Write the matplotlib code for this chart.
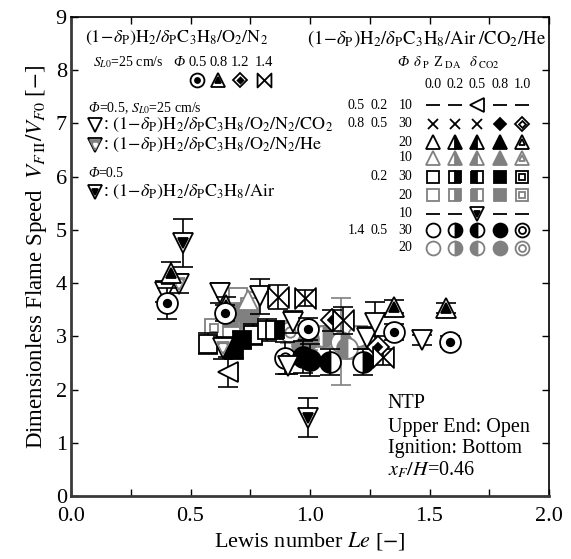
import matplotlib.pyplot as plt
from matplotlib.path import Path
from matplotlib.ticker import MultipleLocator

plt.rcParams['font.family'] = ['Liberation Serif', 'DejaVu Serif']
plt.rcParams['mathtext.fontset'] = 'stix'

GRAY = '#808080'

# ----------------------------
# data: Le, V_FII/V_F0, error bar half-length
# ----------------------------
# (1-dP)H2/dPC3H8/O2/N2, S_L0 = 25 cm/s
on2_phi05_le = [0.40, 0.645, 0.99, 1.35, 1.585]
on2_phi05_vf = [3.62, 3.44, 3.14, 3.08, 2.90]
on2_phi05_err = [0.29, 0.15, 0.20, 0.15, 0.10]

on2_phi08_le = [0.42, 0.65, 1.35, 1.57]
on2_phi08_vf = [4.19, 3.59, 3.56, 3.53]
on2_phi08_err = [0.21, 0.15, 0.12, 0.10]

on2_phi12_le = [1.09, 1.285]
on2_phi12_vf = [3.30, 2.80]
on2_phi12_err = [0.20, 0.20]

on2_phi14_le = [0.867, 0.98, 1.14, 1.305]
on2_phi14_vf = [3.74, 3.72, 3.30, 2.61]
on2_phi14_err = [0.23, 0.15, 0.25, 0.15]

# Phi = 0.5 : O2/N2 diluted by CO2 or He, and air
co2_le = [0.393, 0.623, 0.79, 0.91, 0.93, 1.24, 1.27, 1.47]
co2_vf = [3.84, 3.81, 3.75, 2.45, 3.27, 2.97, 3.25, 2.93]
co2_err = [0.20, 0.19, 0.33, 0.15, 0.20, 0.20, 0.40, 0.10]

he_le = [0.45, 0.637]
he_vf = [3.99, 2.78]
he_err = [0.18, 0.20]

air_le = [0.47, 0.99]
air_vf = [4.76, 1.47]
air_err = [0.45, 0.37]

# (1-dP)H2/dPC3H8/Air/CO2/He
tri10_d05_le = [0.657]
tri10_d05_vf = [2.33]
tri10_d05_err = [0.28]

tri10_d00_le = [0.74]
tri10_d00_vf = [3.68]
tri10_d00_err = [0.15]

sq30_d00_le = [0.575, 0.76, 0.82]
sq30_d00_vf = [2.86, 3.03, 3.12]
sq30_d00_err = [0.20, 0.20, 0.20]

sq30_d02_le = [0.853]
sq30_d02_vf = [3.12]
sq30_d02_err = [0.15]

sq30_d08_le = [0.68, 0.715]
sq30_d08_vf = [2.75, 2.93]
sq30_d08_err = [0.15, 0.15]

sq20_d00_le = [0.70, 0.75]
sq20_d00_vf = [3.74, 3.55]
sq20_d00_err = [0.12, 0.12]

sq20_d08_le = [0.66, 0.71, 0.745]
sq20_d08_vf = [3.35, 3.45, 3.30]
sq20_d08_err = [0.15, 0.15, 0.15]

sq20_d10_le = [0.60]
sq20_d10_vf = [3.15]
sq20_d10_err = [0.15]

ci30_d02_le = [1.22]
ci30_d02_vf = [2.52]
ci30_d02_err = [0.25]

ci30_d05_le = [1.083]
ci30_d05_vf = [2.52]
ci30_d05_err = [0.25]

ci30_d08_le = [0.97, 1.00]
ci30_d08_vf = [2.61, 2.55]
ci30_d08_err = [0.30, 0.30]

ci30_d10_le = [0.895]
ci30_d10_vf = [2.60]
ci30_d10_err = [0.30]

ci20_d00_le = [1.20]
ci20_d00_vf = [3.00]
ci20_d00_err = [0.20]

ci20_d02_le = [1.055, 1.13]
ci20_d02_vf = [3.00, 2.90]
ci20_d02_err = [0.20, 0.82]

ci20_d05_le = [1.155]
ci20_d05_vf = [2.78]
ci20_d05_err = [0.20]

ci20_d08_le = [0.966, 0.99]
ci20_d08_vf = [2.84, 2.95]
ci20_d08_err = [0.20, 0.20]

ci20_d10_le = [0.916]
ci20_d10_vf = [3.08]
ci20_d10_err = [0.20]

delta_co2_labels = ['0.0', '0.2', '0.5', '0.8', '1.0']
phi_on2_labels = ['0.5', '0.8', '1.2', '1.4']

# ----------------------------
# marker styles (layers drawn on top of each other)
# ----------------------------
BOWTIE = Path([(-1, 1), (-1, -1), (1, 1), (1, -1), (-1, 1)],
              [Path.MOVETO, Path.LINETO, Path.LINETO, Path.LINETO, Path.CLOSEPOLY])


def style(kind, c='k'):
    if kind == 'circ_dot':
        return [('o', 1.0, 'white', c, 'full'), ('o', 0.36, c, c, 'full')]
    if kind == 'tri_dbl':
        return [('^', 1.0, 'white', c, 'full'), ('^', 0.45, c, c, 'full')]
    if kind == 'dia_dot':
        return [('D', 0.72, 'white', c, 'full'), ('D', 0.3, c, c, 'full')]
    if kind == 'bowtie':
        return [(BOWTIE, 1.0, 'white', c, 'full')]
    if kind == 'v_open':
        return [('v', 1.0, 'white', c, 'full')]
    if kind == 'v_he':
        return [('v', 1.0, 'white', c, 'full'), ('v', 0.62, GRAY, GRAY, 'full'),
                ('v', 0.25, 'white', 'white', 'full')]
    if kind == 'v_air':
        return [('v', 1.0, 'white', c, 'full'), ('v', 0.45, c, c, 'full')]
    if kind == 'left':
        return [('<', 1.0, 'white', c, 'full')]
    if kind == 'dash':
        return [('_', 1.0, c, c, 'full')]
    if kind == 'cross':
        return [('x', 0.7, c, c, 'full')]
    if kind == 'dia_full':
        return [('D', 0.6, c, c, 'full')]
    if kind == 'dia_dbl':
        return [('D', 0.7, 'white', c, 'full'), ('D', 0.35, 'white', c, 'full')]
    raise ValueError(kind)


def grid_style(shape, idx, c):
    f = 0.85 if shape == 's' else 1.0
    if idx == 0:
        return [(shape, f, 'white', c, 'full')]
    if idx == 1:
        return [(shape, f, c, c, 'right')]
    if idx == 2:
        return [(shape, f, c, c, 'left')]
    if idx == 3:
        return [(shape, f, c, c, 'full')]
    return [(shape, f, 'white', c, 'full'), (shape, f * 0.5, 'white', c, 'full')]


def put(ax, x, y, lay, base, z, **kw):
    for m, f, fc, ec, fs in lay:
        ax.plot(x, y, ls='none', marker=m, ms=base * f, mfc=fc, mec=ec,
                mfcalt='white', fillstyle=fs, mew=1.3, zorder=z, **kw)


def series(ax, le, vf, err, lay, z, ec='k'):
    ax.errorbar(le, vf, yerr=err, fmt='none', ecolor=ec, elinewidth=1.2,
                capsize=7.5, capthick=1.2, zorder=z - 0.5)
    put(ax, le, vf, lay, 15, z)


fig = plt.figure(figsize=(5.71, 5.59), dpi=100)
ax = fig.add_axes([71 / 571, 63 / 559, 478 / 571, 479 / 559])

# gray (Z_DA = 20 / 10) points first, then black ones, then O2/N2 series on top
series(ax, sq20_d00_le, sq20_d00_vf, sq20_d00_err, grid_style('s', 0, GRAY), 2, GRAY)
series(ax, sq20_d08_le, sq20_d08_vf, sq20_d08_err, grid_style('s', 3, GRAY), 2.1, GRAY)
series(ax, sq20_d10_le, sq20_d10_vf, sq20_d10_err, grid_style('s', 4, GRAY), 2.2, GRAY)
series(ax, tri10_d00_le, tri10_d00_vf, tri10_d00_err, grid_style('^', 0, GRAY), 2.3, GRAY)
series(ax, ci20_d00_le, ci20_d00_vf, ci20_d00_err, grid_style('o', 0, GRAY), 2.4, GRAY)
series(ax, ci20_d02_le, ci20_d02_vf, ci20_d02_err, grid_style('o', 1, GRAY), 2.5, GRAY)
series(ax, ci20_d05_le, ci20_d05_vf, ci20_d05_err, grid_style('o', 2, GRAY), 2.6, GRAY)
series(ax, ci20_d08_le, ci20_d08_vf, ci20_d08_err, grid_style('o', 3, GRAY), 2.7, GRAY)
series(ax, ci20_d10_le, ci20_d10_vf, ci20_d10_err, grid_style('o', 4, GRAY), 2.8, GRAY)

series(ax, sq30_d00_le, sq30_d00_vf, sq30_d00_err, grid_style('s', 0, 'k'), 3)
series(ax, sq30_d02_le, sq30_d02_vf, sq30_d02_err, grid_style('s', 1, 'k'), 3.1)
series(ax, sq30_d08_le, sq30_d08_vf, sq30_d08_err, grid_style('s', 3, 'k'), 3.2)
series(ax, ci30_d10_le, ci30_d10_vf, ci30_d10_err, grid_style('o', 4, 'k'), 3.3)
series(ax, ci30_d08_le, ci30_d08_vf, ci30_d08_err, grid_style('o', 3, 'k'), 3.4)
series(ax, ci30_d05_le, ci30_d05_vf, ci30_d05_err, grid_style('o', 2, 'k'), 3.5)
series(ax, ci30_d02_le, ci30_d02_vf, ci30_d02_err, grid_style('o', 1, 'k'), 3.6)
series(ax, tri10_d05_le, tri10_d05_vf, tri10_d05_err, style('left'), 3.7)

series(ax, co2_le, co2_vf, co2_err, style('v_open'), 4)
series(ax, he_le, he_vf, he_err, style('v_he'), 4.1)
series(ax, air_le, air_vf, air_err, style('v_air'), 4.2)
series(ax, on2_phi12_le, on2_phi12_vf, on2_phi12_err, style('dia_dot'), 4.3)
series(ax, on2_phi14_le, on2_phi14_vf, on2_phi14_err, style('bowtie'), 4.4)
series(ax, on2_phi08_le, on2_phi08_vf, on2_phi08_err, style('tri_dbl'), 4.5)
series(ax, on2_phi05_le, on2_phi05_vf, on2_phi05_err, style('circ_dot'), 4.6)

# ----------------------------
# axes
# ----------------------------
ax.set_xlim(0, 2)
ax.set_ylim(0, 9)
ax.xaxis.set_major_locator(MultipleLocator(0.5))
ax.xaxis.set_minor_locator(MultipleLocator(0.25))
ax.yaxis.set_major_locator(MultipleLocator(1))
ax.xaxis.set_major_formatter(plt.FuncFormatter(lambda v, p: f'{v:.1f}'))
ax.tick_params(which='both', direction='in', top=True, right=True,
               length=5, width=1, labelsize=16)
ax.tick_params(axis='x', pad=8)
ax.tick_params(axis='y', pad=3)
for lbl in ax.get_xticklabels() + ax.get_yticklabels():
    lbl.set_fontfamily('Liberation Serif')
for s in ['left', 'bottom']:
    ax.spines[s].set_linewidth(2)
    ax.spines[s].set_color('#3a3a3a')
for s in ['right', 'top']:
    ax.spines[s].set_linewidth(1.2)
ax.set_xlabel(r'Lewis number $\mathit{Le}$ [$-$]', fontsize=16, labelpad=3)
ax.set_ylabel(r'Dimensionless Flame Speed  $V_{F\,\mathrm{II}}/V_{F0}$ [$-$]',
              fontsize=16.5, labelpad=5)

T = ax.transAxes
mix = r'(1\!-\!\delta_{\rm P}){\rm H}_2/\delta_{\rm P}{\rm C}_3{\rm H}_8'


def phi(x, y, size, **kw):
    ax.text(x, y, 'Φ', transform=T, fontsize=size, fontstyle='italic',
            va='center', **kw)


# left legend block
ax.text(0.029, 0.956, '$' + mix + r'/{\rm O}_2/{\rm N}_2$', transform=T,
        fontsize=13, va='center')
ax.text(0.046, 0.906, r'$S_{L0}$=25 cm/s', transform=T, fontsize=10, va='center')
phi(0.213, 0.906, 10.5)
on2_kinds = ['circ_dot', 'tri_dbl', 'dia_dot', 'bowtie']
on2_fx = [0.264, 0.308, 0.354, 0.404]
for lab, kind, fx in zip(phi_on2_labels, on2_kinds, on2_fx):
    ax.text(fx, 0.906, lab, transform=T, fontsize=10.5, ha='center', va='center')
    put(ax, [fx], [0.868], style(kind), 10, 6, transform=T, clip_on=False)

phi(0.036, 0.81, 10)
ax.text(0.058, 0.81, r'=0.5, $S_{L0}$=25 cm/s', transform=T, fontsize=10, va='center')
put(ax, [0.05], [0.775], style('v_open'), 10.5, 6, transform=T)
ax.text(0.067, 0.775, ': $' + mix + r'/{\rm O}_2/{\rm N}_2/{\rm CO}_2$', transform=T,
        fontsize=13, va='center')
put(ax, [0.05], [0.733], style('v_he'), 10.5, 6, transform=T)
ax.text(0.067, 0.733, ': $' + mix + r'/{\rm O}_2/{\rm N}_2/{\rm He}$', transform=T,
        fontsize=13, va='center')
phi(0.036, 0.674, 10)
ax.text(0.058, 0.674, '=0.5', transform=T, fontsize=10, va='center')
put(ax, [0.05], [0.635], style('v_air'), 10.5, 6, transform=T)
ax.text(0.067, 0.635, ': $' + mix + r'/{\rm Air}$', transform=T,
        fontsize=13, va='center')

# right legend block (Air/CO2/He grid)
ax.text(0.494, 0.956, '$' + mix + r'/{\rm Air}\;/{\rm CO}_2/{\rm He}$', transform=T,
        fontsize=13.5, va='center')
phi(0.695, 0.904, 10.5, ha='center')
ax.text(0.733, 0.904, r'$\delta_{\rm\ P}$', transform=T, fontsize=10.5, ha='center', va='center')
ax.text(0.787, 0.904, r'Z$_{\rm\ DA}$', transform=T, fontsize=10.5, ha='center', va='center')
ax.text(0.865, 0.904, r'$\delta_{\rm\ CO2}$', transform=T, fontsize=10.5, ha='center', va='center')

col_fx = [0.758, 0.803, 0.849, 0.897, 0.944]
for lab, fx in zip(delta_co2_labels, col_fx):
    ax.text(fx, 0.86, lab, transform=T, fontsize=10, ha='center', va='center')

row_fy = [0.816, 0.777, 0.739, 0.706, 0.666, 0.628, 0.589, 0.555, 0.518]
row_phi = ['0.5', '0.8', '', '', '', '', '', '1.4', '']
row_dp = ['0.2', '0.5', '', '', '0.2', '', '', '0.5', '']
row_z = ['10', '30', '20', '10', '30', '20', '10', '30', '20']
for fy, p, d, zda in zip(row_fy, row_phi, row_dp, row_z):
    ax.text(0.597, fy, p, transform=T, fontsize=10, ha='center', va='center')
    ax.text(0.645, fy, d, transform=T, fontsize=10, ha='center', va='center')
    ax.text(0.70, fy, zda, transform=T, fontsize=10, ha='center', va='center')

row_styles = [
    [style('dash'), style('dash'), style('left'), style('dash'), style('dash')],
    [style('cross'), style('cross'), style('cross'), style('dia_full'), style('dia_dbl')],
    [grid_style('^', i, 'k') for i in range(5)],
    [grid_style('^', i, GRAY) for i in range(5)],
    [grid_style('s', i, 'k') for i in range(5)],
    [grid_style('s', i, GRAY) for i in range(5)],
    [style('dash'), style('dash'), style('v_air'), style('dash'), style('dash')],
    [grid_style('o', i, 'k') for i in range(5)],
    [grid_style('o', i, GRAY) for i in range(5)],
]
for fy, lays in zip(row_fy, row_styles):
    for fx, lay in zip(col_fx, lays):
        put(ax, [fx], [fy], lay, 10, 6, transform=T)

# conditions
ax.text(0.663, 0.194, 'NTP', transform=T, fontsize=14.5, va='center')
ax.text(0.663, 0.144, 'Upper End: Open', transform=T, fontsize=14.5, va='center')
ax.text(0.663, 0.100, 'Ignition: Bottom', transform=T, fontsize=14.5, va='center')
ax.text(0.663, 0.054, r'$x_F/H$=0.46', transform=T, fontsize=14.5, va='center')

fig.savefig('out.png', dpi=100)
